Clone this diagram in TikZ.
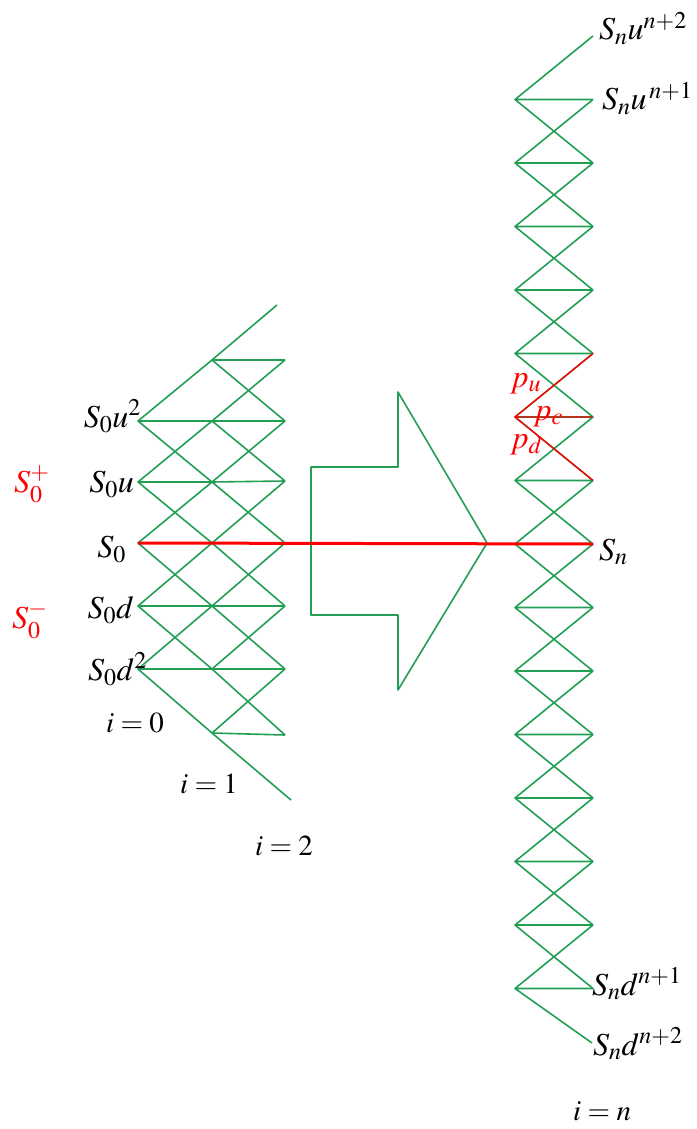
\documentclass[tikz,border=0pt]{standalone}
\usepackage{mathptmx}
\DeclareMathSizes{32}{32}{24}{18}
\DeclareMathSizes{29}{29}{21}{15}
\definecolor{tgreen}{RGB}{35,158,85}
\definecolor{tred}{RGB}{255,0,0}
\begin{document}
\begin{tikzpicture}[x=1pt,y=-1pt,
  gline/.style={draw=tgreen,line width=1.6pt,line join=round},
  rline/.style={draw=tred,line width=1.4pt},
  rthick/.style={draw=tred,line width=3pt},
  lbl/.style={inner sep=0pt,font=\fontsize{32}{34}\selectfont},
  ilbl/.style={inner sep=0pt,font=\fontsize{29}{31}\selectfont},
  rlbl/.style={lbl,text=tred}]
\useasboundingbox (0,0) rectangle (696,1129);
% ---------- left tree ----------
\foreach \i/\y in {2/669,3/606,4/543,5/482,6/421}
  \coordinate (A\i) at (138,\y);
\foreach \i/\y in {1/733,2/669,3/606,4/543,5/482,6/421,7/360}
  \coordinate (B\i) at (212,\y);
\foreach \i/\y in {1/735,2/669,3/606,4/543,5/481,6/421,7/360}
  \coordinate (C\i) at (285,\y);
\coordinate (C0) at (291,800);
\coordinate (C8) at (277,305);
\foreach \i in {2,...,6}{
  \pgfmathtruncatemacro\up{\i+1}\pgfmathtruncatemacro\dn{\i-1}
  \draw[gline] (B\up) -- (A\i) -- (B\dn) (A\i) -- (B\i);
}
\foreach \i in {1,...,7}{
  \pgfmathtruncatemacro\up{\i+1}\pgfmathtruncatemacro\dn{\i-1}
  \draw[gline] (C\up) -- (B\i) -- (C\dn) (B\i) -- (C\i);
}
% ---------- right tree ----------
\foreach \j in {1,...,15}
  \coordinate (L\j) at (515,{544-63.5*(\j-8)});
\foreach \j in {1,...,16}
  \coordinate (R\j) at (593,{544-63.5*(\j-8)});
\coordinate (R0) at (592,1043);
\foreach \j in {1,...,15}{
  \pgfmathtruncatemacro\up{\j+1}\pgfmathtruncatemacro\dn{\j-1}
  \draw[gline] (R\up) -- (L\j) -- (R\dn) (L\j) -- (R\j);
}
% red branch
\draw[rline] (R11) -- (L10) -- (R9) (L10) -- (R10);
% ---------- block arrow ----------
\coordinate (ar1) at (311,467);
\coordinate (ar2) at (398,467);
\coordinate (ar3) at (398,392);
\coordinate (ar4) at (487,543);
\coordinate (ar5) at (398,690);
\coordinate (ar6) at (398,615);
\coordinate (ar7) at (311,615);
\draw[gline] (ar1) -- (ar2) -- (ar3) -- (ar4) -- (ar5) -- (ar6) -- (ar7) -- cycle;
% red central line
\draw[rthick] (A4) -- (R8);
% ---------- labels ----------
\node[lbl,anchor=base east] (lu2) at (141,427) {$S_0u^2$};
\node[lbl,anchor=base east] (lu) at (134,492) {$S_0u$};
\node[lbl,anchor=base east] (l0) at (126,557) {$S_0$};
\node[lbl,anchor=base east] (ld) at (134,618) {$S_0d$};
\node[lbl,anchor=base east] (ld2) at (147,680) {$S_0d^2$};
\node[rlbl,anchor=base west] (sp) at (14,492) {$S_0^+$};
\node[rlbl,anchor=base west] (sm) at (12,628) {$S_0^-$};
\node[ilbl,anchor=base] (i0) at (135,732) {$i=0$};
\node[ilbl,anchor=base] (i1) at (209,793) {$i=1$};
\node[ilbl,anchor=base] (i2) at (284,855) {$i=2$};
\node[lbl,anchor=base west] (sn) at (599,560) {$S_n$};
\node[lbl,anchor=base west] (snu2) at (599,40) {$S_nu^{n+2}$};
\node[lbl,anchor=base west] (snu1) at (602,110) {$S_nu^{\,n+1}$};
\node[lbl,anchor=base west] (snd1) at (592,995) {$S_nd^{n+1}$};
\node[lbl,anchor=base west] (snd2) at (593,1055) {$S_nd^{n+2}$};
\node[ilbl,anchor=base] (in) at (602,1120) {$i=n$};
\node[rlbl,anchor=base west] (pu) at (510,387) {$p_u$};
\node[rlbl,anchor=base west] (pc) at (533,420) {$p_c$};
\node[rlbl,anchor=base west] (pd) at (510,448) {$p_d$};
\end{tikzpicture}
\end{document}
